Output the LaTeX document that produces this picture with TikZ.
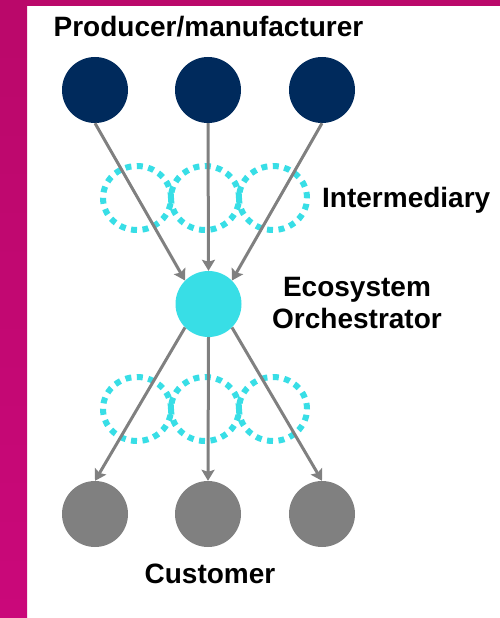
\documentclass[tikz,border=0pt]{standalone}
\usepackage{fontspec}
\setmainfont{Liberation Sans}
\usetikzlibrary{arrows.meta,shapes.geometric}
\definecolor{navy}{RGB}{0,42,92}
\definecolor{aqua}{RGB}{56,222,230}
\definecolor{framepink}{RGB}{186,8,106}
\definecolor{framepinklow}{RGB}{202,8,122}
\definecolor{linegray}{RGB}{128,128,128}
\begin{document}
\begin{tikzpicture}[x=1pt, y=-1pt,
    producer/.style={circle, fill=navy, minimum size=66pt, inner sep=0pt},
    customer/.style={circle, fill=linegray, minimum size=66pt, inner sep=0pt},
    orchestrator/.style={circle, fill=aqua, minimum size=66pt, inner sep=0pt},
    ring/.style={ellipse, draw=aqua, line width=6pt, dash pattern=on 6pt off 5.5pt,
                 minimum width=68pt, minimum height=64pt, inner sep=0pt},
    flow/.style={-{Stealth[length=11pt, width=13pt, inset=2pt]}, draw=linegray, line width=3pt},
    heading/.style={font=\fontsize{28}{32}\selectfont\bfseries, inner sep=0pt, align=center}
]
\useasboundingbox (0,0) rectangle (500,618);

% Cornice
\fill[framepink] (0,0) rectangle (500,6);
\shade[top color=framepink, bottom color=framepinklow] (0,0) rectangle (27,618);

% Intermediari
\foreach \x/\n in {137/1, 205/2, 273/3} {
    \node[ring] (inter\n) at (\x,198) {};
    \node[ring] (inter\n b) at (\x,409) {};
}

% Nodi
\foreach \x/\n in {95/1, 208/2, 322/3} {
    \node[producer] (prod\n) at (\x,90) {};
    \node[customer] (cust\n) at (\x,514) {};
}
\node[orchestrator] (orch) at (208.5,304) {};

% Flussi
\draw[flow] (prod1.south) -- (orch.135);
\draw[flow] (prod2.south) -- (orch.north);
\draw[flow] (prod3.south) -- (orch.45);
\draw[flow] (orch.225) -- (cust1.north);
\draw[flow] (orch.south) -- (cust2.north);
\draw[flow] (orch.-45) -- (cust3.north);

% Etichette
\node[heading, anchor=base] (prodlabel) at (208.5,37) {Producer/manufacturer};
\node[heading, anchor=base west] (interlabel) at (322,207) {Intermediary};
\node[heading] (orchlabel) at (357,303) {Ecosystem\\Orchestrator};
\node[heading, anchor=base] (custlabel) at (210,583) {Customer};

\end{tikzpicture}
\end{document}
